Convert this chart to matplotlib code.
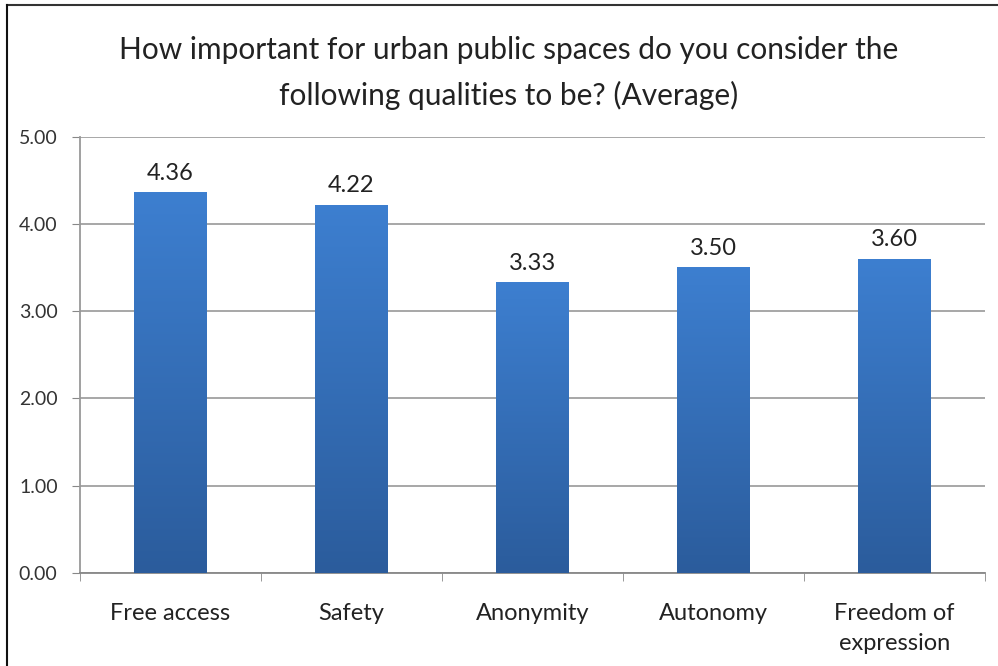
import numpy as np
import matplotlib.pyplot as plt
from matplotlib.lines import Line2D
from matplotlib.colors import LinearSegmentedColormap

plt.rcParams['font.family'] = ['Lato', 'DejaVu Sans']

categories = ['Free access', 'Safety', 'Anonymity', 'Autonomy', 'Freedom of\nexpression']
values = [4.36, 4.22, 3.33, 3.50, 3.60]
yticks = [0, 1, 2, 3, 4, 5]

fig = plt.figure(figsize=(9.98, 6.66), dpi=100)
# axes: x 80..985 px, y 137..573 px
ax = fig.add_axes([0.080, 0.140, 0.907, 0.655])

x = np.arange(len(categories))
bars = ax.bar(x, values, width=0.4, color='#3570bb', zorder=2)

# vertical gradient on each bar
cmap = LinearSegmentedColormap.from_list('g', ['#2b5c9c', '#3d7fd0'])
grad = np.linspace(0, 1, 256).reshape(-1, 1)
for b in bars:
    im = ax.imshow(grad, cmap=cmap, origin='lower', aspect='auto',
                   extent=[b.get_x(), b.get_x() + b.get_width(), 0, b.get_height()],
                   zorder=3)
    im.set_clip_path(b)

for xi, v in zip(x, values):
    ax.text(xi, v + 0.1, f'{v:.2f}', ha='center', va='bottom', fontsize=17, color='#222222')

ax.set_xlim(-0.5, len(categories) - 0.5)
ax.set_ylim(0, 5)
ax.set_yticks(yticks)
ax.set_yticklabels([f'{t:.2f}' for t in yticks], fontsize=14, color='#333333')
ax.yaxis.grid(True, color='#a0a0a0', linewidth=1.3, zorder=0)
ax.set_axisbelow(True)

ax.set_xticks(x)
ax.set_xticklabels(categories, fontsize=17, color='#222222', linespacing=1.5)
ax.tick_params(axis='x', length=0, pad=22)
ax.set_xticks(np.arange(len(categories) + 1) - 0.5, minor=True)
ax.tick_params(axis='x', which='minor', length=6, color='#888888', direction='out')
ax.tick_params(axis='y', length=6, color='#888888', direction='out', pad=10)

for s in ['top', 'right']:
    ax.spines[s].set_visible(False)
ax.spines['left'].set_color('#999999')
ax.spines['bottom'].set_color('#888888')
ax.spines['left'].set_linewidth(1.3)
ax.spines['bottom'].set_linewidth(1.3)

fig.text(0.51, 0.89, 'How important for urban public spaces do you consider the\n'
         'following qualities to be? (Average)', ha='center', va='center',
         fontsize=21.5, linespacing=1.7, color='#222222')

# frame: top and left edges only
fig.add_artist(Line2D([0.007, 1.0], [0.993, 0.993], transform=fig.transFigure,
                      color='#333333', linewidth=1.5))
fig.add_artist(Line2D([0.007, 0.007], [0.0, 0.993], transform=fig.transFigure,
                      color='#111111', linewidth=1.5))

fig.savefig('out.png', dpi=100)
